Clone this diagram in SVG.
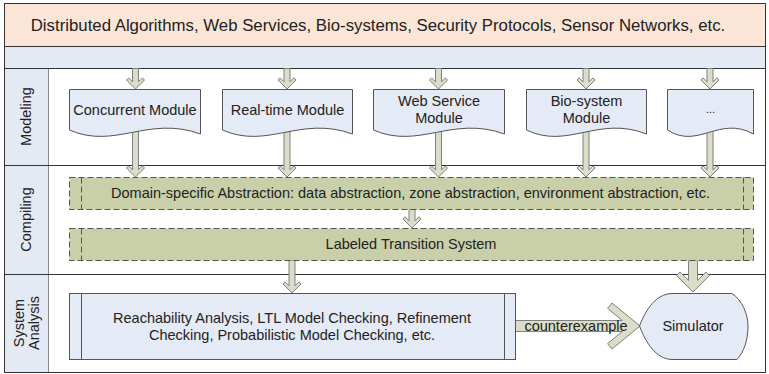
<svg xmlns="http://www.w3.org/2000/svg" width="769" height="374" viewBox="0 0 769 374">
<style>
text{font-family:"Liberation Sans",Arial,sans-serif;fill:#222;}
.t14{font-size:14.5px;text-anchor:middle;dominant-baseline:central;}
.t15{font-size:16.8px;text-anchor:middle;dominant-baseline:central;}
.lane{stroke:#333;stroke-width:1;fill:none;}
.mod{fill:#e4eaf6;stroke:#555;stroke-width:1;}
.dash{fill:#c9cfa9;stroke:#555;stroke-width:1;stroke-dasharray:6 3;}
.dline{stroke:#555;stroke-width:1;stroke-dasharray:6 3;fill:none;}
.ana{fill:#e4eaf6;stroke:#555;stroke-width:1;}
.arr{fill:#dadec8;stroke:#808080;stroke-width:1;stroke-linejoin:miter;}
</style>
<rect x="0" y="0" width="769" height="374" fill="#fff"/>
<g id="background">
<rect x="4.5" y="3.5" width="761" height="43" fill="#fbe5d6"/>
<rect x="4.5" y="46.5" width="761" height="22" fill="#e4eaf4"/>
<rect x="4.5" y="68.5" width="44" height="304" fill="#e4eaf4"/>
<line x1="48.5" y1="68.5" x2="48.5" y2="372.5" stroke="#8a8a8a"/>
<line class="lane" x1="4.5" y1="46.5" x2="765.5" y2="46.5"/>
<line class="lane" x1="4.5" y1="68.5" x2="765.5" y2="68.5" stroke="#555"/>
<line class="lane" x1="4.5" y1="165.5" x2="765.5" y2="165.5"/>
<line class="lane" x1="4.5" y1="274.5" x2="765.5" y2="274.5"/>
<rect x="4.5" y="3.5" width="761" height="369" fill="none" stroke="#333"/>
</g>
<g id="title"><text class="t15" x="378" y="25">Distributed Algorithms, Web Services, Bio-systems, Security Protocols, Sensor Networks, etc.</text></g>
<g id="lane-labels">
<text class="t14" transform="translate(26,116.5) rotate(-90)" x="0" y="0">Modeling</text>
<text class="t14" transform="translate(26,219.5) rotate(-90)" x="0" y="0">Compiling</text>
<text class="t14" transform="translate(26,323) rotate(-90)"><tspan x="0" y="-7.5">System</tspan><tspan x="0" y="7.5">Analysis</tspan></text>
</g>
<g id="connectors">
<polygon class="arr" points="132.5,68.5 138.5,68.5 138.5,81.8 142.4,77.9 144.5,80 135.5,89 126.5,80 128.6,77.9 132.5,81.8"/>
<polygon class="arr" points="284,68.5 290,68.5 290,81.8 293.9,77.9 296,80 287,89 278,80 280.1,77.9 284,81.8"/>
<polygon class="arr" points="435.5,68.5 441.5,68.5 441.5,81.8 445.4,77.9 447.5,80 438.5,89 429.5,80 431.6,77.9 435.5,81.8"/>
<polygon class="arr" points="583,68.5 589,68.5 589,81.8 592.9,77.9 595,80 586,89 577,80 579.1,77.9 583,81.8"/>
<polygon class="arr" points="707,68.5 713,68.5 713,81.8 716.9,77.9 719,80 710,89 701,80 703.1,77.9 707,81.8"/>
<polygon class="arr" points="132.5,125 138.5,125 138.5,169.8 142.4,165.9 144.5,168 135.5,177 126.5,168 128.6,165.9 132.5,169.8"/>
<polygon class="arr" points="284,125 290,125 290,169.8 293.9,165.9 296,168 287,177 278,168 280.1,165.9 284,169.8"/>
<polygon class="arr" points="435.5,125 441.5,125 441.5,169.8 445.4,165.9 447.5,168 438.5,177 429.5,168 431.6,165.9 435.5,169.8"/>
<polygon class="arr" points="583,125 589,125 589,169.8 592.9,165.9 595,168 586,177 577,168 579.1,165.9 583,169.8"/>
<polygon class="arr" points="707,125 713,125 713,169.8 716.9,165.9 719,168 710,177 701,168 703.1,165.9 707,169.8"/>
<polygon class="arr" points="409,209.5 415,209.5 415,220.8 418.9,216.9 421,219 412,228 403,219 405.1,216.9 409,220.8"/>
<polygon class="arr" points="289,260.5 295,260.5 295,285.8 298.9,281.9 301,284 292,293 283,284 285.1,281.9 289,285.8"/>
<polygon class="arr" points="688.5,260.5 697.5,260.5 697.5,280.4 706,272 709.5,275.5 693,292 676.5,275.5 680,272 688.5,280.4"/>
<polygon class="arr" points="515.5,320.5 622.3,320.5 607.6,308.4 612,303 640,326 612,349 607.6,343.6 622.3,331.5 515.5,331.5"/>
<text x="576" y="326" style="font-size:14.5px;text-anchor:middle;dominant-baseline:central">counterexample</text>
</g>
<g id="concurrent-module">
<path class="mod" d="M69.5,89.5 H200.5 V134 C148,115 115,150 69.5,130 Z"/>
<text class="t14" x="135" y="110">Concurrent Module</text>
</g>
<g id="realtime-module">
<path class="mod" d="M222.5,89.5 H352.5 V134 C300,115 268,150 222.5,130 Z"/>
<text class="t14" x="287.5" y="110">Real-time Module</text>
</g>
<g id="webservice-module">
<path class="mod" d="M373.5,89.5 H504.5 V134 C452,115 419,150 373.5,130 Z"/>
<text class="t14" x="439" y="101">Web Service</text>
<text class="t14" x="439" y="118">Module</text>
</g>
<g id="biosystem-module">
<path class="mod" d="M526.5,89.5 H646.5 V134 C598,115 568,150 526.5,130 Z"/>
<text class="t14" x="586.5" y="101">Bio-system</text>
<text class="t14" x="586.5" y="118">Module</text>
</g>
<g id="other-module">
<path class="mod" d="M667.5,89.5 H753.5 V134 C719,115 698,150 667.5,130 Z"/>
<text class="t14" x="710.5" y="109" style="font-size:11px">...</text>
</g>
<g id="domain-abstraction">
<rect class="dash" x="69.5" y="177.5" width="684" height="32"/>
<line class="dline" x1="81.5" y1="177.5" x2="81.5" y2="209.5"/>
<line class="dline" x1="743.5" y1="177.5" x2="743.5" y2="209.5"/>
<text class="t14" x="410.5" y="193">Domain-specific Abstraction: data abstraction, zone abstraction, environment abstraction, etc.</text>
</g>
<g id="lts">
<rect class="dash" x="69.5" y="228.5" width="684" height="32"/>
<line class="dline" x1="81.5" y1="228.5" x2="81.5" y2="260.5"/>
<line class="dline" x1="743.5" y1="228.5" x2="743.5" y2="260.5"/>
<text class="t14" x="411" y="244">Labeled Transition System</text>
</g>
<g id="analysis">
<rect class="ana" x="69.5" y="293.5" width="446" height="66"/>
<line x1="81.5" y1="293.5" x2="81.5" y2="359.5" stroke="#555"/>
<line x1="504.5" y1="293.5" x2="504.5" y2="359.5" stroke="#555"/>
<text class="t14" x="292" y="318">Reachability Analysis, LTL Model Checking, Refinement</text>
<text class="t14" x="292" y="335">Checking, Probabilistic Model Checking, etc.</text>
</g>
<g id="simulator">
<path class="mod" d="M639.5,326 C646,309 656,294 672,293.5 L732,293.5 C742,300 748,314 748,326 C748,340 744,352 737,359.5 L672,359.5 C656,359 646,343 639.5,326 Z"/>
<text class="t14" x="693" y="326">Simulator</text>
</g>
</svg>
